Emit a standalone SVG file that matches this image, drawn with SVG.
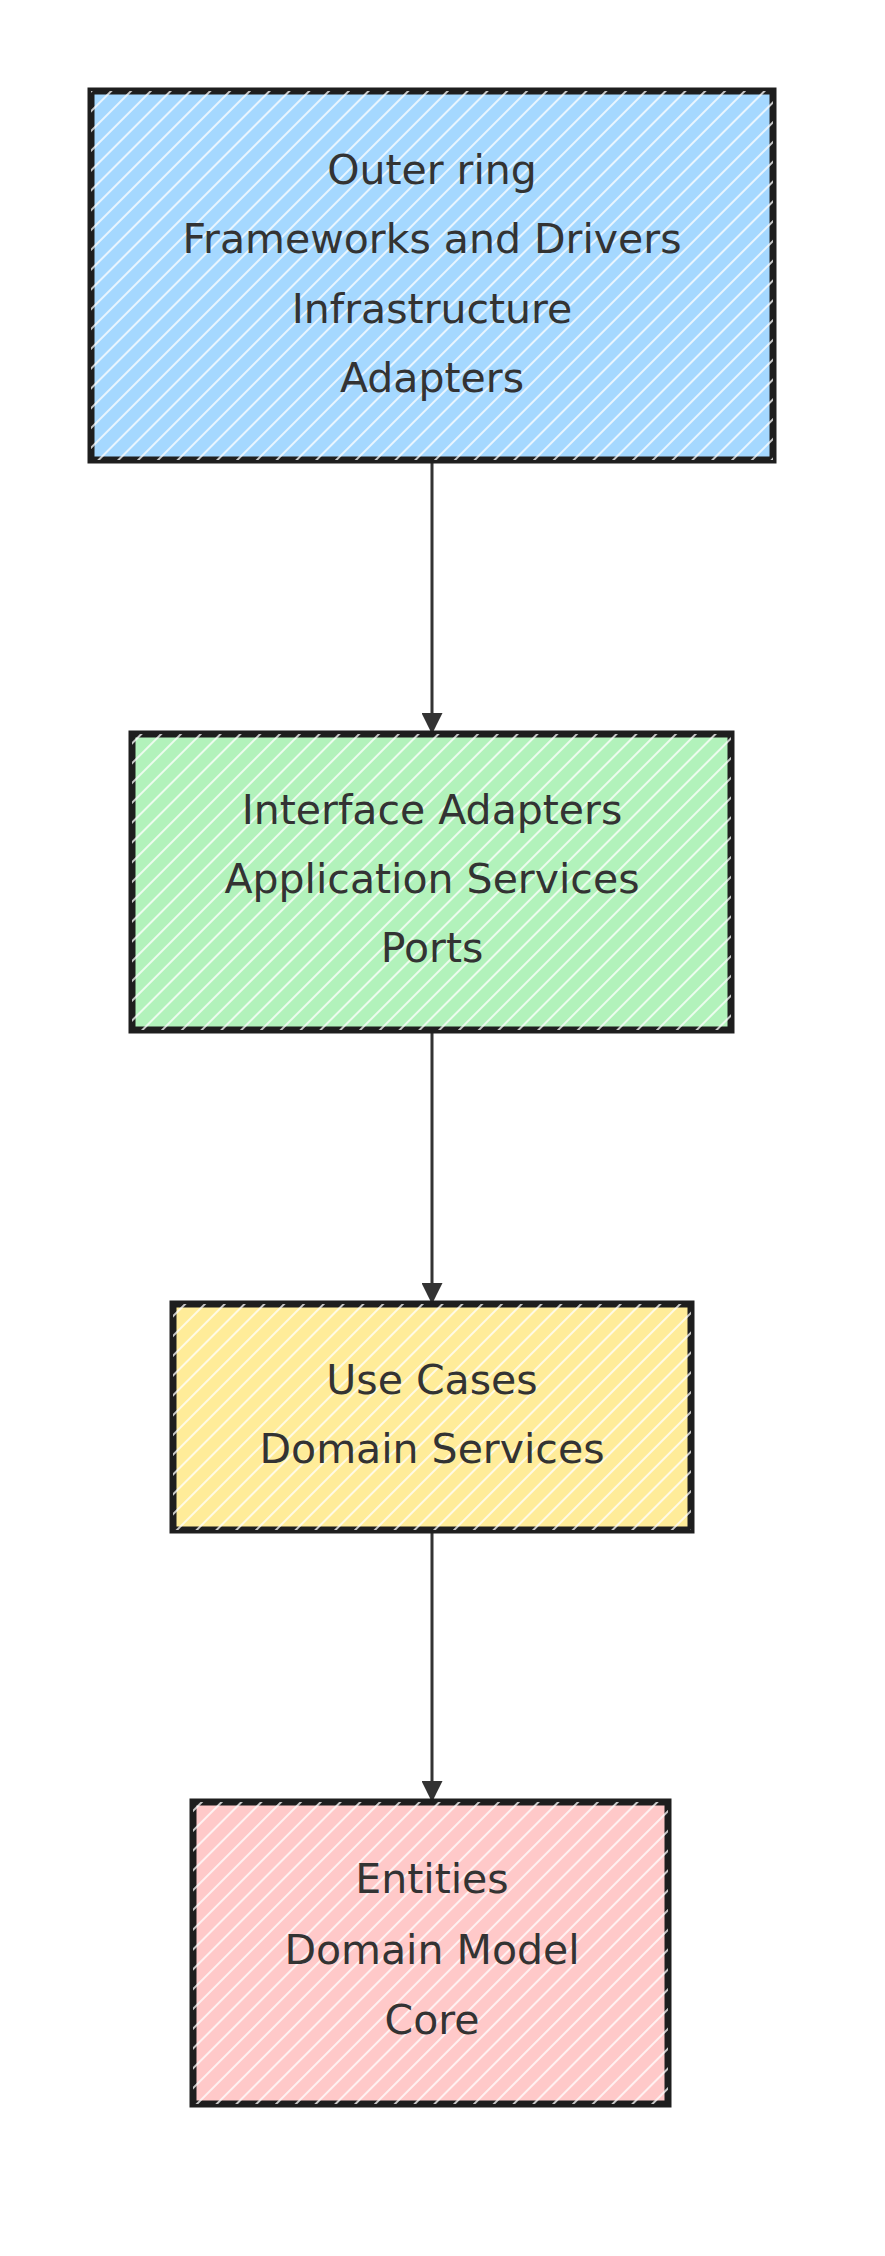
<svg xmlns="http://www.w3.org/2000/svg" width="885" height="2256" viewBox="0 0 885 2256">
<style>
.box{stroke:#1e1e1e;stroke-width:7}
.t{font-family:"DejaVu Sans",sans-serif;font-size:41px;fill:#333;text-anchor:middle}
.c{stroke:#333;stroke-width:3;fill:none}
</style>
<defs>
<pattern id="h" width="14" height="14" patternUnits="userSpaceOnUse" patternTransform="rotate(-45)">
<line x1="0" y1="3" x2="14" y2="3" stroke="#fff" stroke-width="2" opacity="0.75"/>
</pattern>
<marker id="a" viewBox="0 0 10 10" refX="9" refY="5" markerWidth="7" markerHeight="7" orient="auto" markerUnits="strokeWidth"><path d="M0,0L10,5L0,10z" fill="#333"/></marker>
</defs>
<rect width="885" height="2256" fill="#fff"/>
<g id="connectors">
<path class="c" d="M432,460L432,732" marker-end="url(#a)"/>
<path class="c" d="M432,1030L432,1302" marker-end="url(#a)"/>
<path class="c" d="M432,1530L432,1800" marker-end="url(#a)"/>
</g>
<g id="outer">
<rect class="box" x="91" y="91" width="682" height="369" fill="#a5d8ff"/>
<rect x="91" y="91" width="682" height="369" fill="url(#h)"/>
<text class="t" x="432" y="184">Outer ring</text>
<text class="t" x="432" y="253">Frameworks and Drivers</text>
<text class="t" x="432" y="323">Infrastructure</text>
<text class="t" x="432" y="392">Adapters</text>
</g>
<g id="interface">
<rect class="box" x="132" y="734" width="599" height="296" fill="#b2f2bb"/>
<rect x="132" y="734" width="599" height="296" fill="url(#h)"/>
<text class="t" x="432" y="824">Interface Adapters</text>
<text class="t" x="432" y="893">Application Services</text>
<text class="t" x="432" y="962">Ports</text>
</g>
<g id="usecases">
<rect class="box" x="173" y="1304" width="518" height="226" fill="#ffec99"/>
<rect x="173" y="1304" width="518" height="226" fill="url(#h)"/>
<text class="t" x="432" y="1394">Use Cases</text>
<text class="t" x="432" y="1463">Domain Services</text>
</g>
<g id="entities">
<rect class="box" x="193" y="1802" width="475" height="302" fill="#ffc9c9"/>
<rect x="193" y="1802" width="475" height="302" fill="url(#h)"/>
<text class="t" x="432" y="1893">Entities</text>
<text class="t" x="432" y="1964">Domain Model</text>
<text class="t" x="432" y="2034">Core</text>
</g>
</svg>
